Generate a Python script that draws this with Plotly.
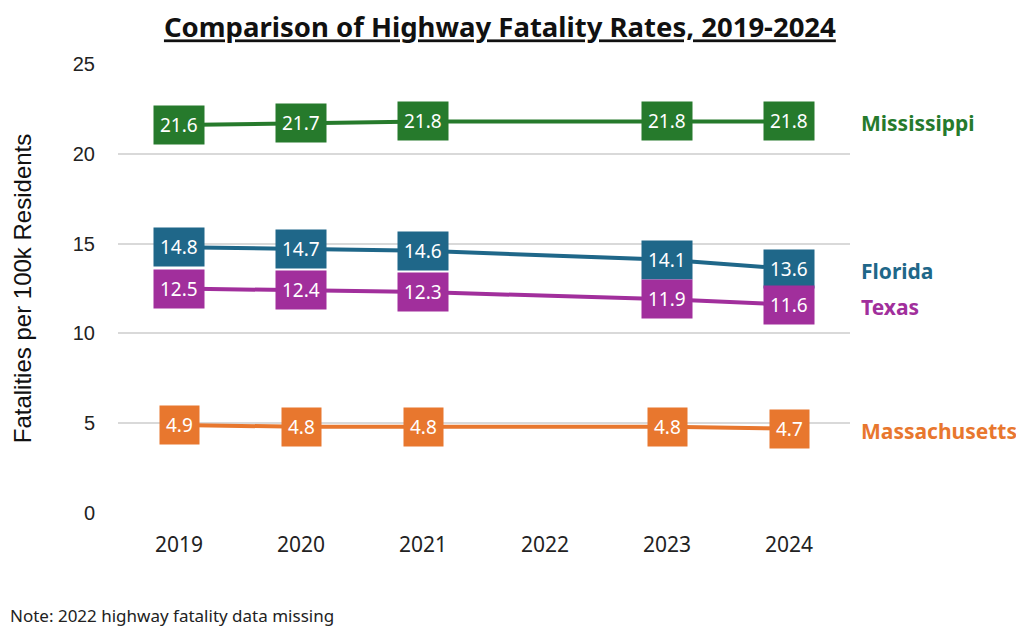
import plotly.graph_objects as go

years = ["2019", "2020", "2021", "2022", "2023", "2024"]

states = ["Mississippi", "Florida", "Texas", "Massachusetts"]
mississippi = [21.6, 21.7, 21.8, None, 21.8, 21.8]
florida = [14.8, 14.7, 14.6, None, 14.1, 13.6]
texas = [12.5, 12.4, 12.3, None, 11.9, 11.6]
massachusetts = [4.9, 4.8, 4.8, None, 4.8, 4.7]

colors = ["#267a2c", "#1f6789", "#a12f9c", "#e8772e"]
series = [mississippi, florida, texas, massachusetts]

# positions on x axis (category index), labels come from years
xpos = list(range(len(years)))

fig = go.Figure()
annotations = []

for name, vals, col in zip(states, series, colors):
    fig.add_trace(go.Scatter(
        x=xpos, y=vals, mode="lines", name=name,
        line=dict(color=col, width=4), connectgaps=True,
        showlegend=False,
    ))
    # value boxes
    for xi, v in zip(xpos, vals):
        if v is None:
            continue
        annotations.append(dict(
            x=xi, y=v, xref="x", yref="y", text=f"{v:.1f}",
            showarrow=False, bgcolor=col, borderpad=6,
            font=dict(family="Noto Sans", size=19, color="white"),
        ))
    # series name on right
    last = [v for v in vals if v is not None][-1]
    annotations.append(dict(
        x=xpos[-1], y=last, xref="x", yref="y", text=f"<b>{name}</b>",
        showarrow=False, xanchor="left", xshift=70, yshift=-2,
        font=dict(family="Noto Sans", size=21, color=col),
    ))

# note below the chart
annotations.append(dict(
    x=-110 / 732, y=-(607 - 505) / 449, xref="paper", yref="paper",
    xanchor="left", yanchor="middle",
    text="Note: 2022 highway fatality data missing", showarrow=False,
    font=dict(family="Noto Sans", size=17, color="#222222"),
))

fig.update_layout(
    width=1008, height=619,
    paper_bgcolor="white", plot_bgcolor="white",
    margin=dict(l=110, r=166, t=56, b=114),
    title=dict(
        text="<b><u>Comparison of Highway Fatality Rates, 2019-2024</u></b>",
        x=0.488, xanchor="center", y=0.968, yanchor="middle",
        font=dict(family="Noto Sans", size=27.5, color="#111111"),
    ),
    annotations=annotations,
)

fig.update_xaxes(
    range=[-0.5, 5.5], tickvals=xpos, ticktext=years,
    showgrid=False, showline=False, zeroline=False, ticks="",
    tickfont=dict(family="Noto Sans", size=21, color="#222222"),
    ticklabelstandoff=17,
)
fig.update_yaxes(
    range=[0, 25], dtick=5, showgrid=True, gridcolor="#d9d9d9", gridwidth=1.5,
    zeroline=False, showline=False, ticks="",
    tickfont=dict(family="Liberation Sans", size=20, color="#222222"),
    ticklabelstandoff=22,
    title=dict(text="Fatalities per 100k Residents",
               font=dict(family="Liberation Sans", size=24, color="#111111"),
               standoff=34),
)

fig.write_html("out.html")
